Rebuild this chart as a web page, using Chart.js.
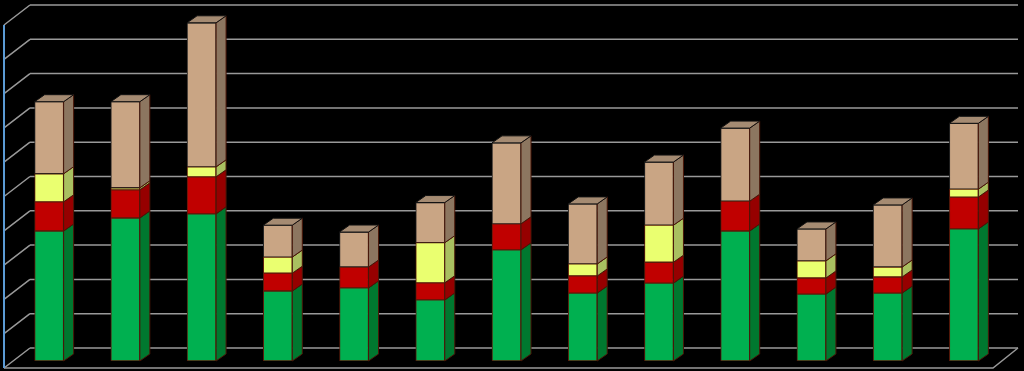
<!DOCTYPE html>
<html>
<head>
<meta charset="utf-8">
<script src="https://cdn.jsdelivr.net/npm/chart.js@4.4.1/dist/chart.umd.min.js"></script>
<style>
  body { margin: 0; background: #000; }
</style>
</head>
<body>
<canvas id="stacked3d" width="1024" height="371"></canvas>
<script>
// values (one grid step = 10)
const categories = ['1', '2', '3', '4', '5', '6', '7', '8', '9', '10', '11', '12', '13'];
const greenVals  = [37.9, 41.7, 42.9, 20.4, 21.3, 17.8, 32.4, 19.8, 22.7, 37.9, 19.5, 19.8, 38.5];
const redVals    = [8.5, 8.2, 10.8, 5.2, 6.1, 5.0, 7.6, 5.0, 6.1, 8.7, 4.7, 4.7, 9.3];
const yellowVals = [8.2, 0.6, 2.9, 4.7, 0, 11.7, 0, 3.5, 10.8, 0, 5.0, 2.9, 2.3];
const tanVals    = [21.0, 25.1, 42.0, 9.3, 10.2, 11.7, 23.6, 17.5, 18.4, 21.3, 9.3, 18.1, 19.2];

// front / side / top colours per series
const faces = [
  { front: '#00B050', side: '#00782F', top: '#00B050' },
  { front: '#C00000', side: '#960000', top: '#C00000' },
  { front: '#EAFF70', side: '#A9C060', top: '#D8EE70' },
  { front: '#C9A584', side: '#8C7660', top: '#A58B72' }
];

const DX = 10, DY = -7;

const wallPlugin = {
  id: 'wall',
  beforeDatasetsDraw(chart) {
    const ctx = chart.ctx;
    const a = chart.chartArea;
    const y = chart.scales.y;
    const frontX = a.left - 7, backX = frontX + 26;
    const rightBack = a.right + 16, floorY = a.bottom + 7;
    ctx.save();
    ctx.strokeStyle = '#999999';
    ctx.lineWidth = 1.5;
    y.ticks.forEach(t => {
      const py = y.getPixelForValue(t.value) - 13;
      ctx.beginPath();
      ctx.moveTo(backX, py); ctx.lineTo(rightBack, py);
      ctx.moveTo(frontX, py + 20); ctx.lineTo(backX, py);
      ctx.stroke();
    });
    ctx.beginPath();
    ctx.moveTo(frontX, floorY);
    ctx.lineTo(rightBack - 25, floorY);
    ctx.lineTo(rightBack, floorY - 20);
    ctx.stroke();
    ctx.strokeStyle = '#5B9BD5';
    ctx.lineWidth = 2;
    ctx.beginPath();
    ctx.moveTo(frontX, y.getPixelForValue(y.max) + 7);
    ctx.lineTo(frontX, floorY);
    ctx.stroke();
    ctx.restore();
  }
};

const depthPlugin = {
  id: 'depth',
  afterDatasetsDraw(chart) {
    const ctx = chart.ctx;
    const n = chart.data.labels.length;
    ctx.save();
    ctx.lineWidth = 1;
    for (let i = 0; i < n; i++) {
      let topIdx = -1;
      chart.data.datasets.forEach((ds, d) => {
        if (ds.data[i] > 0) topIdx = d;
      });
      chart.data.datasets.forEach((ds, d) => {
        if (!(ds.data[i] > 0)) return;
        const bar = chart.getDatasetMeta(d).data[i];
        const r = bar.x + bar.width / 2, l = bar.x - bar.width / 2;
        ctx.strokeStyle = '#4a1608';
        ctx.fillStyle = faces[d].side;
        ctx.beginPath();
        ctx.moveTo(r, bar.y);
        ctx.lineTo(r + DX, bar.y + DY);
        ctx.lineTo(r + DX, bar.base + DY);
        ctx.lineTo(r, bar.base);
        ctx.closePath();
        ctx.fill();
        ctx.stroke();
        if (d === topIdx) {
          ctx.strokeStyle = '#111';
          ctx.fillStyle = faces[d].top;
          ctx.beginPath();
          ctx.moveTo(l, bar.y);
          ctx.lineTo(l + DX, bar.y + DY);
          ctx.lineTo(r + DX, bar.y + DY);
          ctx.lineTo(r, bar.y);
          ctx.closePath();
          ctx.fill();
          ctx.stroke();
        }
      });
    }
    ctx.restore();
  }
};

const seriesVals = [greenVals, redVals, yellowVals, tanVals];

new Chart(document.getElementById('stacked3d').getContext('2d'), {
  type: 'bar',
  data: {
    labels: categories,
    datasets: seriesVals.map((vals, d) => ({
      data: vals,
      backgroundColor: faces[d].front,
      borderColor: d === 3 ? '#222' : '#5a1a0a',
      borderWidth: 1,
      borderSkipped: false,
      barThickness: 29
    }))
  },
  options: {
    responsive: false,
    animation: false,
    layout: { padding: { left: 11, right: 22, top: 18, bottom: 10 } },
    plugins: { legend: { display: false }, tooltip: { enabled: false } },
    scales: {
      x: { stacked: true, display: false },
      y: {
        stacked: true,
        display: false,
        min: 0, max: 100,
        ticks: { stepSize: 10 }
      }
    }
  },
  plugins: [wallPlugin, depthPlugin]
});
</script>
</body>
</html>
